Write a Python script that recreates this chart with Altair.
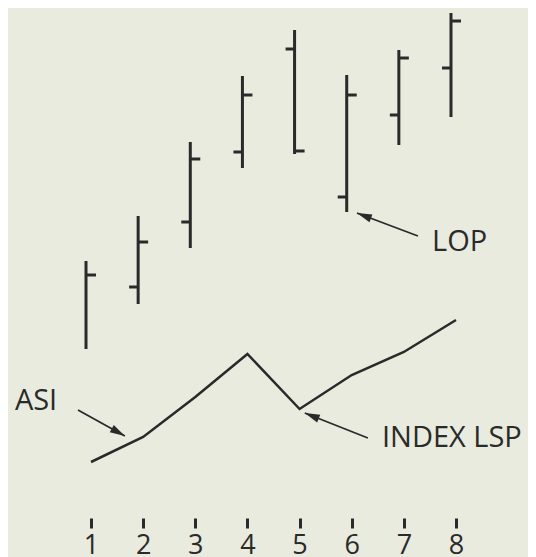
import altair as alt
import pandas as pd

# ---- data (arbitrary price units) ----
periods = [1, 2, 3, 4, 5, 6, 7, 8]
high = [29.6, 34.1, 41.5, 48.1, 52.7, 48.2, 50.7, 54.4]
low = [20.8, 25.3, 30.9, 38.9, 40.3, 34.5, 41.2, 44.0]
open_ = [None, 27.0, 33.5, 40.5, 50.8, 36.0, 44.2, 48.9]
close = [28.2, 31.5, 39.8, 46.2, 40.6, 46.2, 49.9, 53.6]
asi = [9.5, 12.0, 16.0, 20.3, 14.8, 18.2, 20.5, 23.7]

# ---- annotations ----
labels = ["LOP", "ASI", "INDEX LSP"]
label_x = [7.54, -0.46, 6.58]
label_y = [30.6, 14.7, 11.0]
tail_x = [7.27, 0.75, 6.31]
tail_y = [32.1, 14.7, 11.9]
tip_x = [6.10, 1.65, 5.10]
tip_y = [34.4, 12.1, 14.4]
head_angle = [291, 119, 292]

tick_labels = [1, 2, 3, 4, 5, 6, 7, 8]

INK = "#2a2a2a"
BG = "#e8ebdd"

df = pd.DataFrame({"period": periods, "high": high, "low": low,
                   "open": open_, "close": close, "asi": asi})
ann = pd.DataFrame({"label": labels, "lx": label_x, "ly": label_y,
                    "tx": tail_x, "ty": tail_y, "hx": tip_x, "hy": tip_y,
                    "ang": head_angle})

xs = alt.Scale(domain=[-0.592, 9.381], nice=False, zero=False)
ys = alt.Scale(domain=[0, 54.9], nice=False, zero=False)
xaxis = alt.Axis(values=tick_labels, format="d", domain=False, grid=False,
                 ticks=True, tickSize=10, tickWidth=3, tickColor=INK,
                 labelFont="Open Sans", labelFontSize=27, labelColor=INK,
                 labelPadding=4, labelFlush=False, labelOverlap=False,
                 offset=-39, title=None)


def X(f):
    return alt.X(f + ":Q", scale=xs, axis=xaxis, title=None)


def Y(f):
    return alt.Y(f + ":Q", scale=ys, axis=None, title=None)


base = alt.Chart(df)

bars = base.mark_rule(xOffset=-5, strokeWidth=3, color=INK, strokeCap="butt").encode(
    x=X("period"), y=Y("low"), y2="high")
opens = base.transform_filter("isValid(datum.open)").mark_rule(
    xOffset=-14, x2Offset=-5, strokeWidth=3, color=INK, strokeCap="butt").encode(
    x=X("period"), x2="period", y=Y("open"))
closes = base.mark_rule(xOffset=-5, x2Offset=5, strokeWidth=3, color=INK,
                        strokeCap="butt").encode(
    x=X("period"), x2="period", y=Y("close"))
line = base.mark_line(strokeWidth=2.5, color=INK).encode(x=X("period"), y=Y("asi"))

abase = alt.Chart(ann)
shafts = abase.mark_rule(strokeWidth=1.8, color=INK).encode(
    x=X("tx"), y=Y("ty"), x2="hx", y2="hy")
heads = abase.mark_point(shape="M0,0 L0.55,2 L-0.55,2 Z", filled=True, size=225,
                         opacity=1, color=INK, strokeWidth=0).encode(
    x=X("hx"), y=Y("hy"), angle=alt.Angle("ang:Q", scale=None))
texts = abase.mark_text(align="left", baseline="alphabetic", font="Open Sans",
                        fontSize=29, color=INK).encode(
    x=X("lx"), y=Y("ly"), text="label:N")

chart = alt.layer(bars, opens, closes, line, shafts, heads, texts).properties(
    width=520, height=549, padding=0,
    autosize=alt.AutoSizeParams(type="none"),
    background=BG,
).configure_view(stroke=None)

chart.save("out.html", embed_options={"renderer": "svg", "actions": False})
